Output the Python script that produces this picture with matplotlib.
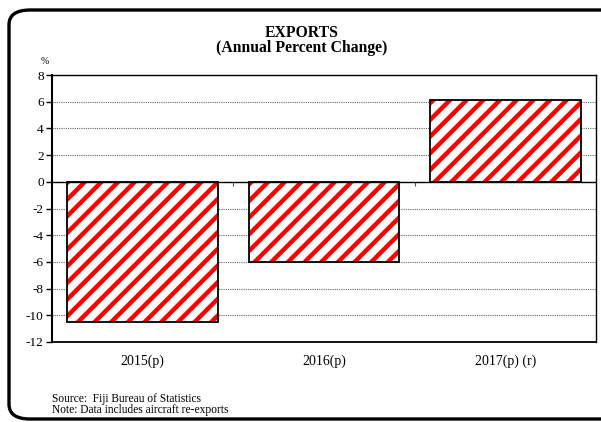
import numpy as np
import matplotlib.pyplot as plt
from matplotlib.patches import FancyBboxPatch

categories = ['2015(p)', '2016(p)', '2017(p) (r)']
values = [-10.5, -6.0, 6.1]
yticks = [-12, -10, -8, -6, -4, -2, 0, 2, 4, 6, 8]

plt.rcParams['font.family'] = ['Liberation Serif', 'DejaVu Serif']
plt.rcParams['hatch.linewidth'] = 3.2

fig = plt.figure(figsize=(6.01, 4.22), dpi=100)
fig.patch.set_facecolor('white')

# rounded outer frame (right side runs off the image)
frame = FancyBboxPatch((9 / 601, 3 / 422), 620 / 601, 409 / 422,
                       boxstyle='round,pad=0,rounding_size=0.035',
                       transform=fig.transFigure, facecolor='none',
                       edgecolor='black', linewidth=2.4, clip_on=False)
fig.patches.append(frame)

ax = fig.add_axes([52 / 601, 1 - 342 / 422, 544 / 601, 267 / 422])
x = np.arange(len(categories))
# red hatch layer, then black outline on top
ax.bar(x, values, width=0.83, facecolor='white', edgecolor='red',
       linewidth=0, hatch='//', zorder=3)
ax.bar(x, values, width=0.83, facecolor='none', edgecolor='black',
       linewidth=1.3, zorder=4)

ax.set_xlim(-0.5, len(categories) - 0.5)
ax.set_ylim(-12, 8)
ax.set_yticks(yticks)
ax.set_yticklabels([str(t) for t in yticks], fontsize=9.5)
ax.set_xticks(x)
ax.set_xticklabels(categories, fontsize=10)
ax.tick_params(axis='x', length=0, pad=9)
ax.tick_params(axis='y', length=4, width=1, pad=2)

for t in yticks[1:-1]:
    if t == 0:
        continue
    ax.axhline(t, color='#666666', linewidth=0.8, linestyle=(0, (1, 1)), zorder=1)
ax.axhline(0, color='black', linewidth=1.0, zorder=5)

for s in ax.spines.values():
    s.set_linewidth(1.0)
ax.spines['left'].set_linewidth(1.5)
ax.spines['bottom'].set_linewidth(1.3)

# small category divider ticks on the zero line
zero_axis = ax.secondary_xaxis(0.6)
zero_axis.set_xticks([0.5, 1.5])
zero_axis.set_xticklabels(['', ''])
zero_axis.tick_params(direction='in', length=3, width=0.8, colors='#555555')
zero_axis.spines['bottom'].set_visible(False)
zero_axis.spines['top'].set_visible(False)

fig.text(302 / 601, 1 - 33 / 422, 'EXPORTS', ha='center', va='center',
         fontsize=11.3, fontweight='bold')
fig.text(302 / 601, 1 - 48 / 422, '(Annual Percent Change)', ha='center',
         va='center', fontsize=11.3, fontweight='bold')
fig.text(45 / 601, 1 - 62 / 422, '%', ha='center', va='center', fontsize=7)
fig.text(52 / 601, 1 - 399 / 422, 'Source:  Fiji Bureau of Statistics',
         ha='left', va='center', fontsize=8.3)
fig.text(52 / 601, 1 - 410 / 422, 'Note: Data includes aircraft re-exports',
         ha='left', va='center', fontsize=8.3)

fig.savefig('out.png', dpi=100)
